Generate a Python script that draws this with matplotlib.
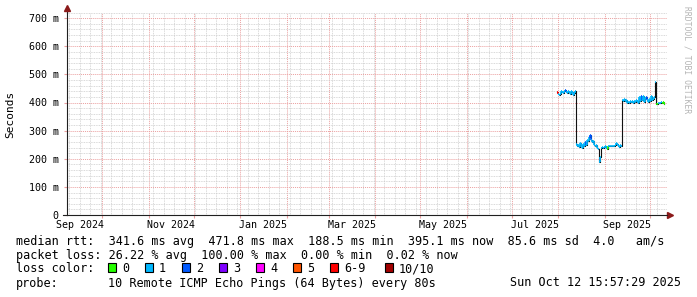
import datetime as dt

import matplotlib
matplotlib.use('Agg')
import matplotlib.pyplot as plt
import matplotlib.dates as mdates
from matplotlib.ticker import MultipleLocator, FuncFormatter
from matplotlib.patches import Rectangle
from matplotlib.collections import LineCollection

W, H = 697, 297
MONO = 'DejaVu Sans Mono'

# graph window: last 400 days
graph_end = dt.datetime(2025, 10, 12, 15, 57, 29)
graph_start = graph_end - dt.timedelta(days=400)

# median rtt (ms), one sample per 16h consolidation step
series_start = dt.datetime(2025, 7, 31, 8, 0)
step_hours = 16
median_ms = [
    436, 430, 428, 432, 440, 436, 433, 440, 444, 438, 434, 442, 437, 431, 441, 439, 425, 434, 440,
    252, 246, 250, 242, 255, 248, 240, 252, 246, 258, 250, 268, 262, 276, 284, 265, 258, 262, 250,
    245, 248, 240, 236, 188.5, 205, 238, 243, 240,
    243, 246, 240, 235, 244, 246, 244, 247, 245, 246, 244, 248, 255, 252, 246, 243, 250, 244,
    410, 406, 412, 404, 408, 400, 403, 398, 405, 401, 404, 400, 406, 402, 409, 404, 400, 418, 405,
    424, 410, 422, 402, 415, 420, 408, 403, 412, 405, 422, 408, 412, 418, 471.8, 395, 396, 399, 400,
    398, 401, 400, 402, 395.1,
]
# lost pings out of 10 per sample
loss = [
    7, 1, 1, 1, 1, 1, 1, 1, 2, 1, 1, 1, 1, 1, 1, 1, 1, 1, 1,
    1, 1, 1, 1, 1, 1, 1, 1, 1, 2, 1, 1, 1, 2, 2, 1, 1, 1, 1,
    1, 1, 1, 1, 1, 1, 1, 1, 1,
    1, 1, 1, 0, 1, 1, 1, 1, 1, 1, 1, 1, 1, 1, 1, 1, 1, 1,
    1, 1, 1, 1, 1, 1, 1, 1, 1, 1, 1, 1, 1, 1, 1, 1, 1, 1, 1,
    2, 1, 1, 1, 1, 2, 1, 1, 1, 1, 1, 1, 1, 1, 1, 0, 0, 1, 1,
    1, 1, 0, 0, 0,
]

legend_labels = ['0', '1', '2', '3', '4', '5', '6-9', '10/10']
legend_colors = ['#26ff00', '#00b8ff', '#0059ff', '#7e00ff', '#ff00ff', '#ff5500', '#ff0000', '#a10000']

stats_lines = [
    'median rtt:  341.6 ms avg  471.8 ms max  188.5 ms min  395.1 ms now  85.6 ms sd  4.0   am/s',
    'packet loss: 26.22 % avg  100.00 % max  0.00 % min  0.02 % now',
]
probe_text = '10 Remote ICMP Echo Pings (64 Bytes) every 80s'
stamp = 'Sun Oct 12 15:57:29 2025'


def fx(px):
    return px / W


def fy(py):
    return 1 - py / H


def loss_color(n):
    if n >= 10:
        return legend_colors[7]
    if n >= 6:
        return legend_colors[6]
    return legend_colors[n]


fig = plt.figure(figsize=(W / 100, H / 100), dpi=100)
fig.patch.set_facecolor('white')
ax = fig.add_axes([fx(67), fy(215), 600 / W, (215 - 12.5) / H])

ax.set_xlim(graph_start, graph_end)
ax.set_ylim(0, 720)

# grid
ax.xaxis.set_major_locator(mdates.MonthLocator())
ax.xaxis.set_minor_locator(mdates.WeekdayLocator(byweekday=mdates.MO))
ax.yaxis.set_major_locator(MultipleLocator(100))
ax.yaxis.set_minor_locator(MultipleLocator(20))
ax.yaxis.set_major_formatter(FuncFormatter(lambda v, p: '0' if v == 0 else f'{int(v)} m'))
ax.grid(which='minor', color='#cccccc', ls=(0, (1, 1)), lw=0.6)
ax.grid(which='major', color='#eba0a0', ls=(0, (1, 1)), lw=0.7)
ax.set_axisbelow(True)
ax.tick_params(axis='x', which='both', labelbottom=False)
ax.tick_params(axis='x', which='major', length=2, color='#eba0a0')
ax.tick_params(axis='x', which='minor', length=0)
ax.tick_params(axis='y', which='major', length=2, color='#eba0a0', pad=4)
ax.tick_params(axis='y', which='minor', length=0)
for lab in ax.get_yticklabels():
    lab.set_fontfamily(MONO)
    lab.set_fontsize(7.2)

for s in ['top', 'right']:
    ax.spines[s].set_visible(False)
ax.spines['left'].set_color('#202020')
ax.spines['bottom'].set_color('#202020')

# month labels centred in their month
for year, month in [(2024, 9), (2024, 11), (2025, 1), (2025, 3), (2025, 5), (2025, 7), (2025, 9)]:
    first = dt.datetime(year, month, 1)
    nxt = dt.datetime(year + month // 12, month % 12 + 1, 1)
    mid = first + (nxt - first) / 2
    ax.text(mid, -0.05, first.strftime('%b %Y'), transform=ax.get_xaxis_transform(),
            ha='center', va='center', fontsize=7.2, family=MONO)

# axis arrows
ax.plot([0, 0], [1, 1.02], transform=ax.transAxes, color='#202020', lw=0.8, clip_on=False)
ax.plot([0], [1.02], marker='^', ms=4, color='#8b1a1a', transform=ax.transAxes, clip_on=False)
ax.plot([-4 / 600, 0], [0, 0], transform=ax.transAxes, color='#202020', lw=0.8, clip_on=False)
ax.plot([(670 - 67) / 600], [0], marker='>', ms=4, color='#8b1a1a', transform=ax.transAxes, clip_on=False)

# data
times = [series_start + dt.timedelta(hours=step_hours * i) for i in range(len(median_ms))]
tnum = mdates.date2num(times)
ax.step(times, median_ms, where='post', color='#111111', lw=0.8, zorder=3)
segs, cols = [], []
for i in range(len(median_ms)):
    t0 = tnum[i]
    t1 = tnum[i] + step_hours / 24
    segs.append([(t0, median_ms[i]), (t1, median_ms[i])])
    cols.append(loss_color(loss[i]))
    if i + 1 < len(median_ms) and abs(median_ms[i + 1] - median_ms[i]) < 25:
        segs.append([(t1, median_ms[i]), (t1, median_ms[i + 1])])
        cols.append(loss_color(loss[i]))
ax.add_collection(LineCollection(segs, colors=cols, linewidths=1.2, zorder=4))

# y label and watermark
fig.text(fx(10.5), fy(114), 'Seconds', rotation=90, fontsize=8, family=MONO, ha='center', va='center')
fig.text(fx(687), fy(60), 'RRDTOOL / TOBI OETIKER', rotation=270, color='#b4b4b4',
         fontsize=5.8, family=MONO, ha='center', va='center')

# legend block
fig.text(fx(16), fy(241), stats_lines[0], fontsize=8.5, family=MONO, va='center')
fig.text(fx(16), fy(255), stats_lines[1], fontsize=8.5, family=MONO, va='center')
fig.text(fx(16), fy(269), 'loss color:', fontsize=8.5, family=MONO, va='center')
box_x = [108, 145, 182, 219, 256, 293, 330, 385]
for bx, lab, col in zip(box_x, legend_labels, legend_colors):
    fig.add_artist(Rectangle((fx(bx), fy(271.7)), 7.5 / W, 8.4 / H, transform=fig.transFigure,
                             facecolor=col, edgecolor='black', lw=0.8))
    fig.text(fx(bx + 14), fy(269), lab, fontsize=8.5, family=MONO, va='center')
fig.text(fx(16), fy(283), 'probe:', fontsize=8.5, family=MONO, va='center')
fig.text(fx(107.5), fy(283), probe_text, fontsize=8.5, family=MONO, va='center')
fig.text(fx(681), fy(283), stamp, fontsize=8.5, family=MONO, va='center', ha='right')

fig.savefig('out.png', dpi=100)
